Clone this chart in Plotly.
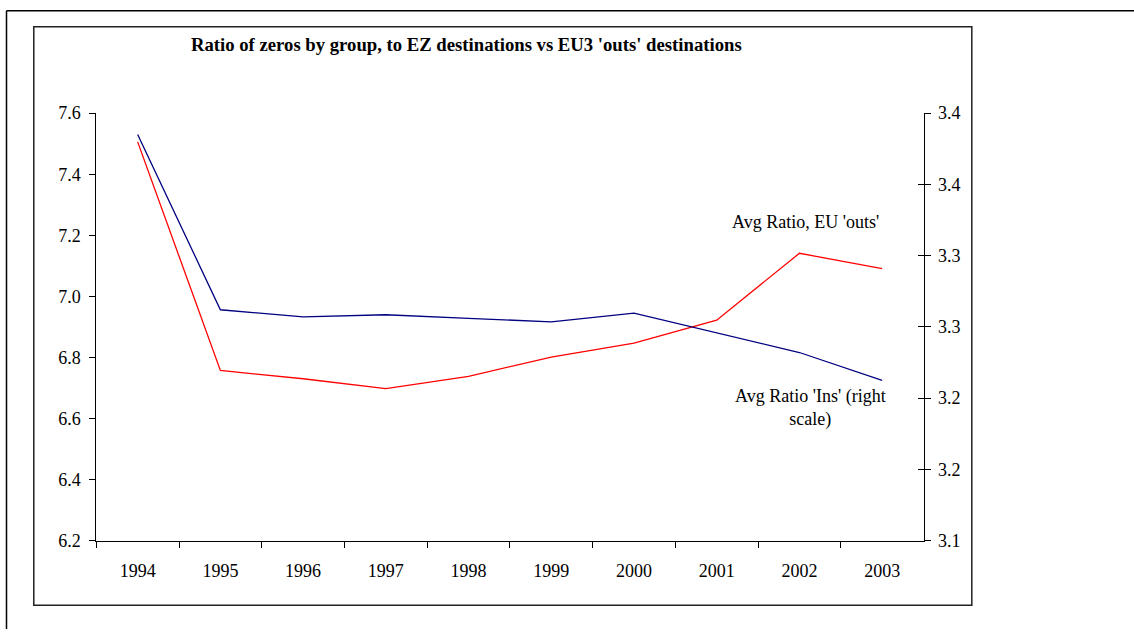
import plotly.graph_objects as go

years = ["1994", "1995", "1996", "1997", "1998", "1999", "2000", "2001", "2002", "2003"]
eu_outs = [7.506, 6.757, 6.730, 6.698, 6.738, 6.801, 6.847, 6.922, 7.141, 7.091]
ins_right = [3.385, 3.262, 3.257, 3.2585, 3.256, 3.2535, 3.2597, 3.246, 3.232, 3.2125]

left_ticks = [6.2, 6.4, 6.6, 6.8, 7.0, 7.2, 7.4, 7.6]
left_ticktext = ["6.2", "6.4", "6.6", "6.8", "7.0", "7.2", "7.4", "7.6"]
right_ticks = [3.10, 3.15, 3.20, 3.25, 3.30, 3.35, 3.40]
right_ticktext = ["3.1", "3.2", "3.2", "3.3", "3.3", "3.4", "3.4"]

title_text = "Ratio of zeros by group, to EZ destinations vs EU3 'outs' destinations"
label_outs = "Avg Ratio, EU 'outs'"
label_ins = "Avg Ratio 'Ins' (right<br>scale)"

W, H = 1134, 639
FONT = "Liberation Serif, Times New Roman, serif"

def px_x(p):
    return p / W

def px_y(p):
    return 1 - p / H

fig = go.Figure()
fig.add_trace(go.Scatter(x=years, y=eu_outs, mode="lines", name=label_outs,
                         line=dict(color="#FF0000", width=1.3), yaxis="y"))
fig.add_trace(go.Scatter(x=years, y=ins_right, mode="lines", name="Avg Ratio 'Ins'",
                         line=dict(color="#000080", width=1.3), yaxis="y2"))
# invisible trace to activate the crossing-tick overlay axis
fig.add_trace(go.Scatter(x=years, y=ins_right, mode="lines", yaxis="y3",
                         line=dict(width=0), hoverinfo="skip", showlegend=False, opacity=0))

xdom = [px_x(96.3), px_x(923.5)]
ydom = [px_y(547.7), px_y(106.5)]

fig.update_layout(
    width=W, height=H,
    margin=dict(l=0, r=0, t=0, b=0),
    paper_bgcolor="white", plot_bgcolor="white",
    showlegend=False,
    font=dict(family=FONT, size=18, color="black"),
    xaxis=dict(domain=xdom, type="category", tickson="boundaries",
               showline=True, linecolor="black", linewidth=1,
               ticks="outside", ticklen=6, tickcolor="black",
               ticklabelstandoff=14,
               showgrid=False, zeroline=False, tickfont=dict(size=18),
               range=[-0.5, 9.5]),
    yaxis=dict(domain=ydom, range=[6.2, 7.6], tickvals=left_ticks, ticktext=left_ticktext,
               showline=True, linecolor="black", linewidth=1,
               ticks="outside", ticklen=6, tickcolor="black",
               ticklabelstandoff=5,
               showgrid=False, zeroline=False, tickfont=dict(size=18)),
    yaxis2=dict(overlaying="y", side="right", anchor="x", range=[3.1, 3.4],
                tickvals=right_ticks, ticktext=right_ticktext,
                showline=True, linecolor="black", linewidth=1,
                ticks="outside", ticklen=6, tickcolor="black",
                ticklabelstandoff=4,
                showgrid=False, zeroline=False, tickfont=dict(size=18)),
    yaxis3=dict(overlaying="y", side="right", anchor="x", range=[3.1, 3.4],
                tickvals=right_ticks, showticklabels=False,
                ticks="inside", ticklen=6, tickcolor="black",
                showline=False, showgrid=False, zeroline=False),
)

fig.add_annotation(text="<b>" + title_text + "</b>", x=px_x(466.8), y=px_y(35.1),
                   xref="paper", yref="paper", showarrow=False,
                   font=dict(family=FONT, size=18.7, color="black"),
                   xanchor="center", yanchor="middle")
fig.add_annotation(text=label_outs, x=px_x(805.6), y=px_y(219.2),
                   xref="paper", yref="paper", showarrow=False,
                   font=dict(family=FONT, size=18, color="black"),
                   xanchor="center", yanchor="middle")
fig.add_annotation(text=label_ins, x=px_x(810), y=px_y(411),
                   xref="paper", yref="paper", showarrow=False,
                   font=dict(family=FONT, size=18, color="black"),
                   xanchor="center", yanchor="middle", align="center")

# outer frame (partially visible)
fig.add_shape(type="line", xref="paper", yref="paper",
              x0=px_x(6.5), x1=1, y0=px_y(0.75), y1=px_y(0.75),
              line=dict(color="black", width=1.5))
fig.add_shape(type="line", xref="paper", yref="paper",
              x0=px_x(6.5), x1=px_x(6.5), y0=px_y(0.75), y1=0,
              line=dict(color="black", width=1.5))
# inner chart box
fig.add_shape(type="rect", xref="paper", yref="paper",
              x0=px_x(33.8), x1=px_x(971.8), y0=px_y(614.6), y1=px_y(17.3),
              line=dict(color="#222222", width=1.5), fillcolor="rgba(0,0,0,0)", layer="below")

fig.write_html("out.html", config={"displayModeBar": False},
               post_script="document.body.style.margin='0';document.body.style.padding='0';")
